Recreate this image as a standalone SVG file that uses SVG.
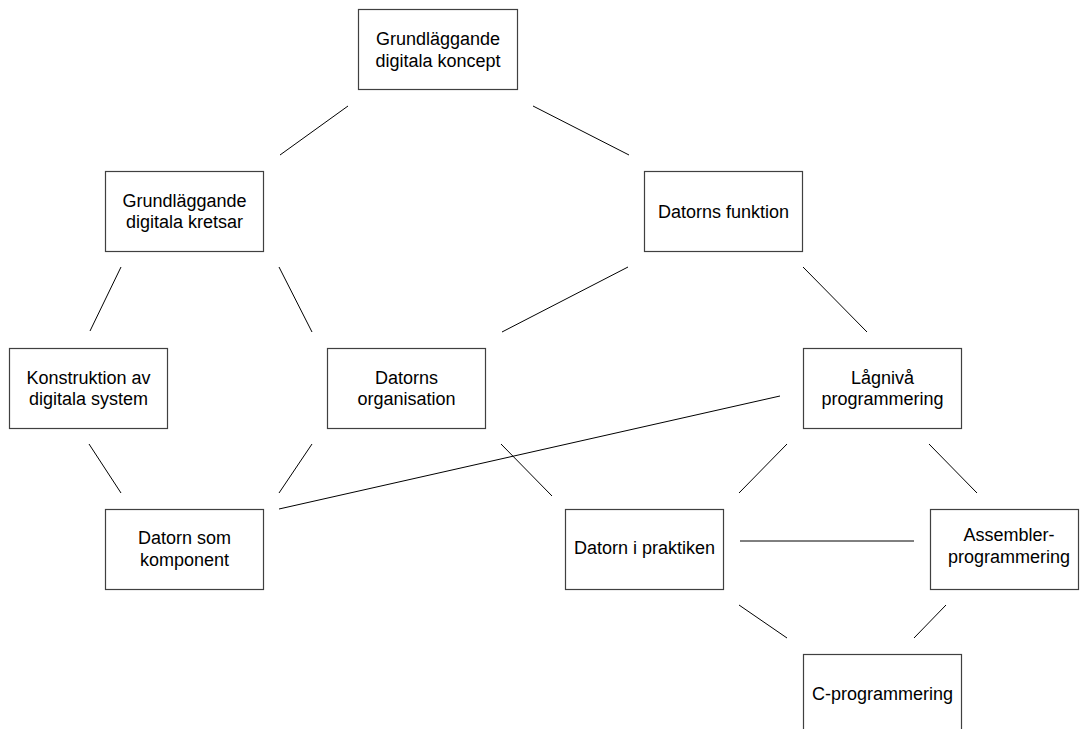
<svg xmlns="http://www.w3.org/2000/svg" width="1080" height="729" viewBox="0 0 1080 729">
<style>
.box{fill:#fff;stroke:#404040;stroke-width:1.2}
.t{font-family:"Liberation Sans",Arial,sans-serif;font-size:18px;fill:#000;text-anchor:middle}
.c line{stroke:#000;stroke-width:1}
</style>
<rect width="1080" height="729" fill="#fff"/>
<g class="c" id="connectors">
<line x1="348" y1="106" x2="280" y2="155"/>
<line x1="533" y1="106" x2="629" y2="155"/>
<line x1="121" y1="267" x2="90" y2="331"/>
<line x1="279" y1="267" x2="312" y2="332"/>
<line x1="628" y1="267" x2="502" y2="332"/>
<line x1="803" y1="267" x2="867" y2="332"/>
<line x1="89" y1="444" x2="121" y2="493"/>
<line x1="312" y1="444" x2="279" y2="493"/>
<line x1="780" y1="396" x2="279" y2="509"/>
<line x1="501" y1="444" x2="552" y2="496"/>
<line x1="787" y1="444" x2="739" y2="493"/>
<line x1="929" y1="444" x2="977" y2="493"/>
<line x1="740" y1="541" x2="914" y2="541"/>
<line x1="739" y1="605" x2="787" y2="638"/>
<line x1="946" y1="605" x2="914" y2="638"/>
</g>
<g id="n1"><rect class="box" x="358.5" y="9.5" width="159" height="80"/><text class="t" x="438" y="45">Grundläggande</text><text class="t" x="438" y="67">digitala koncept</text></g>
<g id="n2"><rect class="box" x="105.5" y="171.5" width="158" height="80"/><text class="t" x="184.5" y="207">Grundläggande</text><text class="t" x="184.5" y="228">digitala kretsar</text></g>
<g id="n3"><rect class="box" x="644.5" y="171.5" width="158" height="80"/><text class="t" x="723.5" y="217.5">Datorns funktion</text></g>
<g id="n4"><rect class="box" x="9.5" y="348.5" width="158" height="80"/><text class="t" x="88.5" y="383.5">Konstruktion av</text><text class="t" x="88.5" y="404.5">digitala system</text></g>
<g id="n5"><rect class="box" x="327.5" y="348.5" width="158" height="80"/><text class="t" x="406.5" y="383.5">Datorns</text><text class="t" x="406.5" y="404.5">organisation</text></g>
<g id="n6"><rect class="box" x="803.5" y="348.5" width="158" height="80"/><text class="t" x="882.5" y="384">Lågnivå</text><text class="t" x="882.5" y="405">programmering</text></g>
<g id="n7"><rect class="box" x="105.5" y="509.5" width="158" height="80"/><text class="t" x="184.5" y="544">Datorn som</text><text class="t" x="184.5" y="566">komponent</text></g>
<g id="n8"><rect class="box" x="565.5" y="509.5" width="158" height="80"/><text class="t" x="644.5" y="554">Datorn i praktiken</text></g>
<g id="n9"><rect class="box" x="930.5" y="509.5" width="148" height="80"/><text class="t" x="1009" y="541">Assembler-</text><text class="t" x="1009" y="563">programmering</text></g>
<g id="n10"><rect class="box" x="803.5" y="654.5" width="158" height="80"/><text class="t" x="882.5" y="700">C-programmering</text></g>
</svg>
